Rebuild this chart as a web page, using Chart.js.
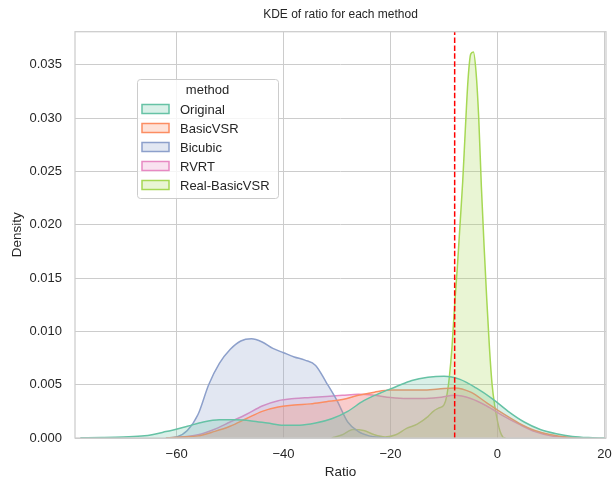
<!DOCTYPE html>
<html>
<head>
<meta charset="utf-8">
<script src="https://cdn.jsdelivr.net/npm/chart.js@4.4.0/dist/chart.umd.min.js"></script>
<style>
html, body { margin: 0; padding: 0; background: #fff; overflow: hidden; }
#wrap { width: 612px; height: 482px; }
</style>
</head>
<body>
<div id="wrap"><canvas id="kde" width="612" height="482"></canvas></div>
<script>
// KDE curves, one x/y pair of arrays per method
var methods = ['Original', 'BasicVSR', 'Bicubic', 'RVRT', 'Real-BasicVSR'];
var colors = ['#66c2a5', '#fc8d62', '#8da0cb', '#e78ac3', '#a6d854'];

var originalX = [-78,-74,-70,-66,-62,-58,-55,-52,-49,-46,-43,-40,-37,-34,-31,-28,-25,-22,-19,-16,-13,-10,-7,-4,-1,2,5,8,11,14,17,20];
var originalY = [0.00002,0.00005,0.0001,0.0002,0.0006,0.0011,0.0015,0.0017,0.0017,0.0016,0.0014,0.0012,0.0012,0.0014,0.0018,0.0025,0.0035,0.0042,0.0048,0.0054,0.0057,0.0058,0.0055,0.0047,0.0037,0.0025,0.0015,0.0008,0.0004,0.00015,0.00004,0];

var basicX = [-62,-59,-56,-53,-50,-47,-44,-41,-38,-35,-32,-29,-26,-23,-20,-17,-14,-11,-8,-5,-2,1,4,7,10,13,16,18];
var basicY = [0,0.0001,0.0002,0.0006,0.0011,0.0018,0.0025,0.0029,0.0031,0.0032,0.0034,0.0036,0.0040,0.0043,0.0045,0.0045,0.0045,0.0046,0.0047,0.0043,0.0033,0.0023,0.0014,0.0007,0.0003,0.0001,0.00002,0];

var bicubicX = [-62,-60,-58,-56,-54,-52,-50,-48,-46,-44,-42,-40,-38,-36,-34,-32,-30,-28,-26,-24,-22,-20];
var bicubicY = [0,0.0001,0.0007,0.0022,0.0050,0.0070,0.0083,0.0091,0.0093,0.0090,0.0084,0.0080,0.0076,0.0073,0.0068,0.0052,0.0035,0.0015,0.0006,0.0002,0.00005,0];

var rvrtX = [-62,-59,-56,-53,-50,-47,-44,-41,-38,-35,-32,-29,-26,-23,-20,-17,-14,-11,-8,-5,-2,1,4,7,10,13,15];
var rvrtY = [0,0.0001,0.0003,0.0008,0.0015,0.0022,0.0030,0.0035,0.0037,0.0038,0.0039,0.0040,0.0041,0.0040,0.0038,0.0037,0.0037,0.0038,0.0040,0.0037,0.0030,0.0021,0.0013,0.0006,0.0002,0.00005,0];

var realX = [-31,-29,-27,-25,-23,-21,-19,-17,-15,-13,-12,-11,-10,-9.5,-9,-8.5,-8,-7.5,-7,-6.5,-6,-5.5,-5,-4.5,-4,-3.5,-3,-2.5,-2,-1.5,-1,-0.5,0,0.5,1,1.5];
var realY = [0,0.0003,0.0008,0.0007,0.0003,0.0001,0.0003,0.0009,0.0013,0.0020,0.0025,0.0028,0.0031,0.0039,0.0057,0.0085,0.0125,0.0160,0.0200,0.0240,0.0290,0.0336,0.0360,0.0362,0.0343,0.0300,0.0235,0.0180,0.0130,0.0085,0.0050,0.0030,0.0016,0.0006,0.0001,0];

var thresholdX = -8;

var xTicks = [-60, -40, -20, 0, 20];
var yTicks = [0, 0.005, 0.010, 0.015, 0.020, 0.025, 0.030, 0.035];

var chartTitle = 'KDE of ratio for each method';
var textColor = '#262626';
var gridColor = '#cccccc';
var fontFamily = "'Liberation Sans', Arial, sans-serif";

function toPoints(xs, ys) {
  return xs.map(function (x, i) { return { x: x, y: ys[i] }; });
}

function hexAlpha(hex, a) {
  var r = parseInt(hex.slice(1, 3), 16), g = parseInt(hex.slice(3, 5), 16), b = parseInt(hex.slice(5, 7), 16);
  return 'rgba(' + r + ',' + g + ',' + b + ',' + a + ')';
}

var seriesX = [originalX, basicX, bicubicX, rvrtX, realX];
var seriesY = [originalY, basicY, bicubicY, rvrtY, realY];

var datasets = methods.map(function (m, i) {
  return {
    label: m,
    data: toPoints(seriesX[i], seriesY[i]),
    borderColor: colors[i],
    backgroundColor: hexAlpha(colors[i], 0.25),
    borderWidth: 1.5,
    pointRadius: 0,
    fill: 'origin',
    cubicInterpolationMode: 'monotone',
    order: i
  };
});

var yMax = 0.0381;
datasets.push({
  label: 'threshold',
  data: [{ x: thresholdX, y: 0 }, { x: thresholdX, y: yMax }],
  borderColor: '#ff0000',
  borderWidth: 1.5,
  borderDash: [5.5, 2.4],
  pointRadius: 0,
  fill: false,
  order: -1
});

// spines, title over the axes, legend box inside the plot
var framePlugin = {
  id: 'frame',
  afterDatasetsDraw: function (chart) {
    var a = chart.chartArea, ctx = chart.ctx;
    ctx.save();
    ctx.strokeStyle = gridColor;
    ctx.lineWidth = 1.25;
    ctx.strokeRect(a.left, a.top, a.right - a.left, a.bottom - a.top);
    ctx.restore();
  },
  afterDraw: function (chart) {
    var ctx = chart.ctx, a = chart.chartArea;
    ctx.save();
    ctx.font = '12px ' + fontFamily;
    ctx.fillStyle = textColor;
    ctx.textAlign = 'center';
    ctx.textBaseline = 'middle';
    ctx.fillText(chartTitle, (a.left + a.right) / 2, 15);

    var bx = 137, by = 79, bw = 141, bh = 119;
    ctx.beginPath();
    ctx.roundRect(bx + 0.5, by + 0.5, bw, bh, 3);
    ctx.fillStyle = 'rgba(255,255,255,0.8)';
    ctx.fill();
    ctx.strokeStyle = gridColor;
    ctx.lineWidth = 1;
    ctx.stroke();

    ctx.font = '13px ' + fontFamily;
    ctx.fillStyle = textColor;
    ctx.fillText('method', bx + bw / 2, 90);
    ctx.textAlign = 'left';
    methods.forEach(function (m, i) {
      var cy = 109 + i * 19;
      ctx.fillStyle = hexAlpha(colors[i], 0.25);
      ctx.fillRect(142, cy - 4.5, 27, 9);
      ctx.strokeStyle = colors[i];
      ctx.lineWidth = 1.5;
      ctx.strokeRect(142, cy - 4.5, 27, 9);
      ctx.fillStyle = textColor;
      ctx.fillText(m, 180, cy + 1);
    });
    ctx.restore();
  }
};

var tickFont = { family: fontFamily, size: 13 };

new Chart(document.getElementById('kde'), {
  type: 'line',
  data: { datasets: datasets },
  plugins: [framePlugin],
  options: {
    responsive: false,
    animation: false,
    devicePixelRatio: 1,
    layout: { padding: { left: 0, right: 0, top: 31.7, bottom: 0 } },
    plugins: {
      legend: { display: false },
      tooltip: { enabled: false },
      title: { display: false }
    },
    scales: {
      x: {
        type: 'linear',
        min: -79,
        max: 20.3,
        afterBuildTicks: function (s) { s.ticks = xTicks.map(function (v) { return { value: v }; }); },
        afterFit: function (s) { s.height = 44; s.paddingRight = 6; },
        ticks: {
          color: textColor,
          font: tickFont,
          padding: 9,
          maxRotation: 0,
          callback: function (v) { return v < 0 ? '\u2212' + Math.abs(v) : String(v); }
        },
        grid: { color: gridColor, lineWidth: 1, drawTicks: false },
        border: { display: false },
        title: { display: true, text: 'Ratio', color: textColor, font: { family: fontFamily, size: 13.5 }, padding: { top: 0, bottom: 2 } }
      },
      y: {
        min: 0,
        max: yMax,
        afterBuildTicks: function (s) { s.ticks = yTicks.map(function (v) { return { value: v }; }); },
        afterFit: function (s) { s.width = 75; s.paddingTop = 0; },
        ticks: {
          color: textColor,
          font: tickFont,
          padding: 13,
          callback: function (v) { return v.toFixed(3); }
        },
        grid: { color: gridColor, lineWidth: 1, drawTicks: false },
        border: { display: false },
        title: { display: true, text: 'Density', color: textColor, font: { family: fontFamily, size: 13.5 }, padding: { top: 9, bottom: 0 } }
      }
    }
  }
});
</script>
</body>
</html>
